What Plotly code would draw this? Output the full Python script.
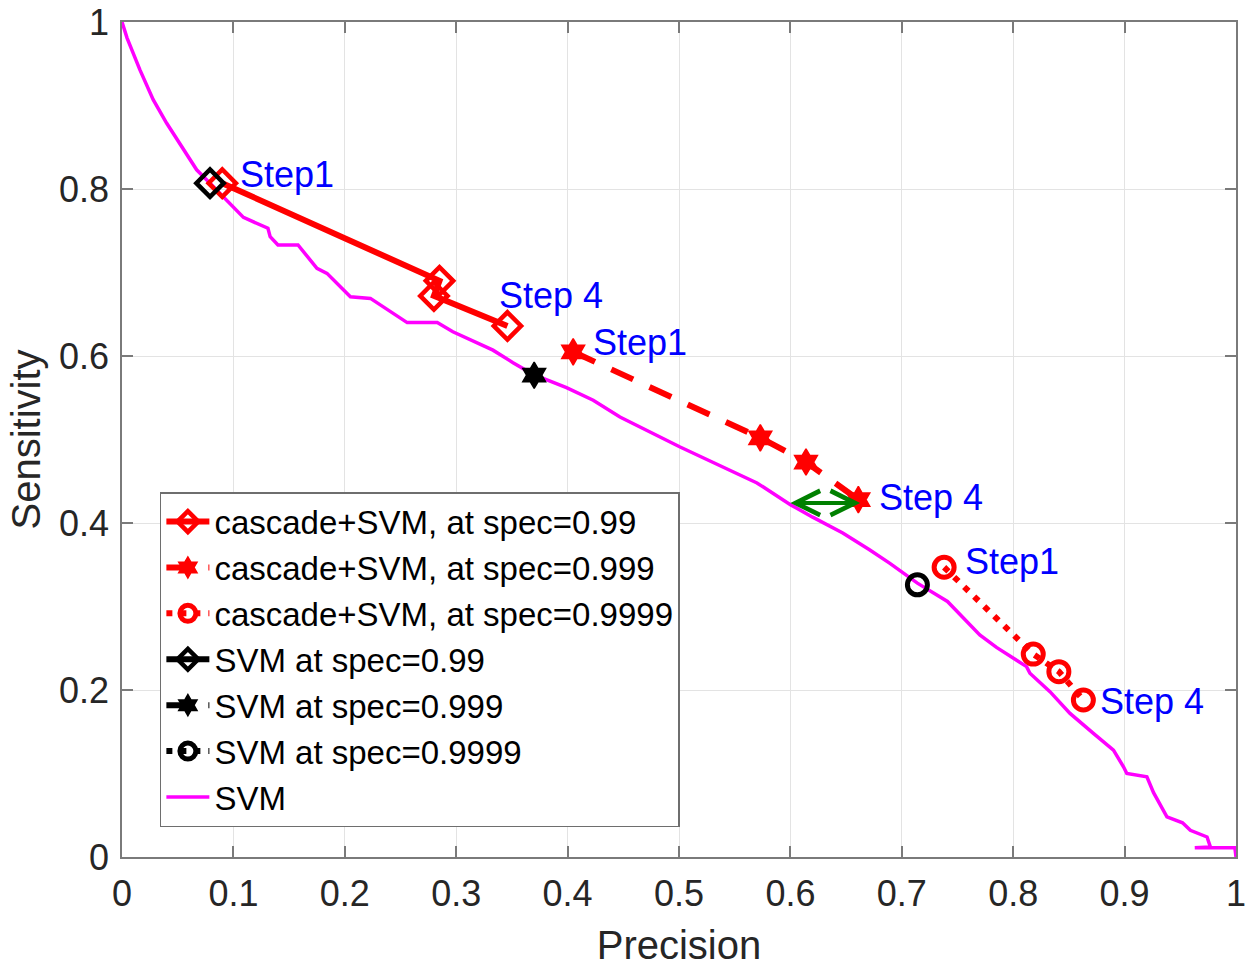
import plotly.graph_objects as go

# ---- data ----
svm_prec = [0.000, 0.0045, 0.016, 0.028, 0.040, 0.055, 0.067, 0.079, 0.094, 0.109,
            0.131, 0.133, 0.140, 0.158, 0.175, 0.184, 0.205, 0.223, 0.256, 0.283,
            0.297, 0.333, 0.351, 0.369, 0.399, 0.423, 0.447, 0.501, 0.570, 0.600,
            0.620, 0.647, 0.671, 0.689, 0.714, 0.741, 0.770, 0.785, 0.812, 0.815,
            0.833, 0.851, 0.872, 0.890, 0.899, 0.902, 0.920, 0.926, 0.938, 0.952,
            0.959, 0.974, 0.977, 0.963, 0.999, 1.000]
svm_sens = [1.000, 0.981, 0.943, 0.907, 0.879, 0.847, 0.823, 0.807, 0.787, 0.766,
            0.753, 0.743, 0.733, 0.733, 0.705, 0.699, 0.671, 0.669, 0.640, 0.640,
            0.629, 0.607, 0.592, 0.578, 0.562, 0.547, 0.527, 0.491, 0.448, 0.422,
            0.407, 0.388, 0.368, 0.352, 0.328, 0.306, 0.266, 0.251, 0.228, 0.220,
            0.198, 0.172, 0.148, 0.128, 0.108, 0.100, 0.096, 0.077, 0.048, 0.041,
            0.032, 0.024, 0.012, 0.011, 0.011, 0.000]

casc99_prec = [0.090, 0.285, 0.280, 0.346]
casc99_sens = [0.807, 0.690, 0.672, 0.636]
casc999_prec = [0.405, 0.573, 0.614, 0.661]
casc999_sens = [0.605, 0.502, 0.473, 0.428]
casc9999_prec = [0.738, 0.818, 0.841, 0.863]
casc9999_sens = [0.347, 0.243, 0.222, 0.188]

svm99 = (0.079, 0.807)
svm999 = (0.370, 0.577)
svm9999 = (0.714, 0.326)

labels = ["Step1", "Step 4", "Step1", "Step 4", "Step1", "Step 4"]
label_x = [0.104, 0.337, 0.421, 0.678, 0.755, 0.876]
label_y = [0.817, 0.672, 0.616, 0.430, 0.354, 0.186]

arrow_from = (0.664, 0.424)
arrow_to = (0.600, 0.424)

RED = "#FF0000"
FONT = "Arial, 'Liberation Sans', sans-serif"

fig = go.Figure()

fig.add_trace(go.Scatter(
    x=svm_prec, y=svm_sens, mode="lines", name="SVM", legendrank=7,
    line=dict(color="#FF00FF", width=3.5)))

fig.add_trace(go.Scatter(
    x=casc99_prec, y=casc99_sens, mode="lines+markers",
    name="cascade+SVM, at spec=0.99", legendrank=1,
    line=dict(color=RED, width=6),
    marker=dict(symbol="diamond-open", size=21, color=RED, line=dict(width=4.5, color=RED))))
fig.add_trace(go.Scatter(
    x=casc999_prec, y=casc999_sens, mode="lines+markers",
    name="cascade+SVM, at spec=0.999", legendrank=2,
    line=dict(color=RED, width=6, dash="24px,18px"),
    marker=dict(symbol="hexagram", size=20, color=RED, line=dict(width=1.5, color=RED))))
fig.add_trace(go.Scatter(
    x=casc9999_prec, y=casc9999_sens, mode="lines+markers",
    name="cascade+SVM, at spec=0.9999", legendrank=3,
    line=dict(color=RED, width=6, dash="6px,8px"),
    marker=dict(symbol="circle-open", size=20, color=RED, line=dict(width=5, color=RED))))

fig.add_trace(go.Scatter(
    x=[svm99[0]], y=[svm99[1]], mode="lines+markers",
    name="SVM at spec=0.99", legendrank=4,
    line=dict(color="black", width=6),
    marker=dict(symbol="diamond-open", size=21, color="black", line=dict(width=4.5, color="black"))))
fig.add_trace(go.Scatter(
    x=[svm999[0]], y=[svm999[1]], mode="lines+markers",
    name="SVM at spec=0.999", legendrank=5,
    line=dict(color="black", width=6, dash="24px,18px"),
    marker=dict(symbol="hexagram", size=20, color="black", line=dict(width=1.5, color="black"))))
fig.add_trace(go.Scatter(
    x=[svm9999[0]], y=[svm9999[1]], mode="lines+markers",
    name="SVM at spec=0.9999", legendrank=6,
    line=dict(color="black", width=6, dash="6px,8px"),
    marker=dict(symbol="circle-open", size=20, color="black", line=dict(width=5, color="black"))))

for t, x, y in zip(labels, label_x, label_y):
    fig.add_annotation(x=x, y=y, text=t, showarrow=False, xanchor="left", yanchor="middle",
                       font=dict(family=FONT, size=36, color="#0000FF"))

fig.add_annotation(x=arrow_to[0], y=arrow_to[1], ax=arrow_from[0], ay=arrow_from[1],
                   xref="x", yref="y", axref="x", ayref="y", text="", showarrow=True,
                   arrowside="end+start", arrowhead=5, startarrowhead=5,
                   arrowsize=1.2, startarrowsize=1.2, arrowwidth=4, arrowcolor="#008000",
                   standoff=0, startstandoff=0)

axis_common = dict(
    showline=True, linecolor="#7a7a7a", linewidth=1.5, mirror="ticks",
    ticks="inside", ticklen=11, tickcolor="#7a7a7a", tickwidth=1.5,
    showgrid=True, gridcolor="#e3e3e3", gridwidth=1, zeroline=False,
    tickfont=dict(family=FONT, size=36, color="#262626"),
    automargin=False,
)

fig.update_xaxes(range=[0, 1], dtick=0.1, tick0=0, ticklabelstandoff=4,
                 title=dict(text="Precision", font=dict(family=FONT, size=40, color="#262626"), standoff=20),
                 **axis_common)
fig.update_yaxes(range=[0, 1], dtick=0.2, tick0=0, ticklabelstandoff=4,
                 title=dict(text="Sensitivity", font=dict(family=FONT, size=40, color="#262626"), standoff=6),
                 **axis_common)

fig.update_layout(
    width=1259, height=967,
    margin=dict(l=122, r=23, t=22, b=110),
    plot_bgcolor="white", paper_bgcolor="white",
    font=dict(family=FONT, color="#262626"),
    legend=dict(x=0.034, y=0.437, xanchor="left", yanchor="top",
                bgcolor="white", bordercolor="#6e6e6e", borderwidth=1.5,
                font=dict(family=FONT, size=33, color="black"),
                itemwidth=43, tracegroupgap=0),
    showlegend=True,
)

fig.write_html("out.html")
